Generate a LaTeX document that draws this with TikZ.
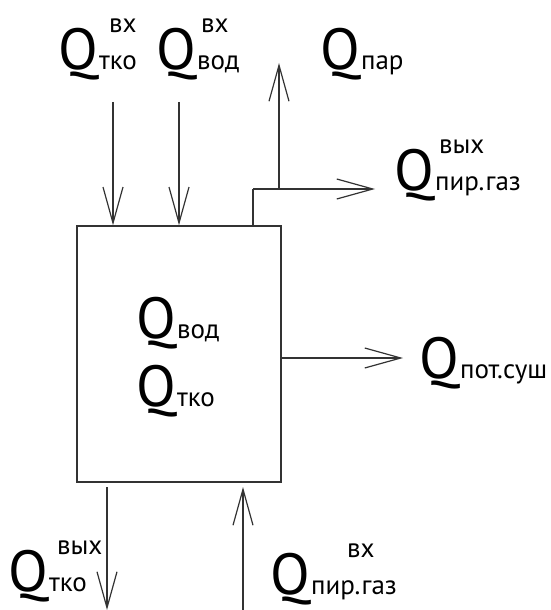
\documentclass[tikz,border=0pt]{standalone}
\usepackage{fontspec}
\setmainfont{PT Sans}
\usepackage{tikz}
\usetikzlibrary{arrows.meta,positioning}
\newcommand\qbig{\fontsize{29}{30}\selectfont}
\newcommand\qsmall{\fontsize{13.5}{16}\selectfont}
% Q with an upper and a lower index
\newcommand\qsym[3][0pt]{\qbig Q\kern.5pt\rlap{\hspace{#1}\raisebox{18.5pt}{\qsmall #2}}{\qsmall #3}}
\tikzset{
  tank/.style={
    draw=black!80,
    line width=.7pt,
    minimum width=102pt,
    minimum height=128pt,
    inner sep=0pt
  },
  arrow/.style={-{Straight Barb[length=18pt,width=10pt]},draw=black!80,line width=.6pt},
  pipe/.style={draw=black!80,line width=.6pt},
  qlabel/.style={anchor=base west,inner sep=0pt,text=black}
}

\begin{document}
\begin{tikzpicture}[x=.5pt,y=-.5pt]
  \useasboundingbox (0,0) rectangle (551,610);

  % Dryer body and what it holds.
  \node[tank] (dryer) at (179,354) {};
  \node[qlabel] (qvod) at (136,338) {\qsym{}{вод}};
  \node[qlabel] (qtko) at (136,406) {\qsym{}{тко}};

  % Inflows from above.
  \node[qlabel] (tkoinlbl) at (58,70)  {\qsym[5pt]{вх}{тко}};
  \node[qlabel] (vodinlbl) at (156,70) {\qsym[2pt]{вх}{вод}};
  \coordinate (tkoin) at (113,102);
  \coordinate (vodin) at (179,102);
  \draw[arrow] (tkoin) -- (tkoin |- dryer.north);
  \draw[arrow] (vodin) -- (vodin |- dryer.north);

  % Outflows at the top right: steam and flue gas.
  \coordinate (gasbend) at (253,189);
  \coordinate (gasout) at (375,189);
  \coordinate (parbase) at (279,189);
  \coordinate (parout) at (279,63);
  \node[qlabel] (parlbl) at (320,70) {\qsym{}{пар}};
  \node[qlabel] (gasoutlbl) at (394,191) {\qsym[2pt]{вых}{пир.газ}};
  \draw[pipe] (gasbend |- dryer.north) -- (gasbend);
  \draw[arrow] (gasbend) -- (gasout);
  \draw[arrow] (parbase) -- (parout);

  % Losses to the right.
  \coordinate (sushout) at (403,358);
  \node[qlabel] (sushlbl) at (419,378) {\qsym{}{пот.суш}};
  \draw[arrow] (dryer.east |- sushout) -- (sushout);

  % Bottom: waste out, flue gas in.
  \coordinate (tkotop) at (107,487);
  \coordinate (tkoout) at (107,610);
  \coordinate (gasin) at (243,610);
  \coordinate (gastop) at (243,487);
  \node[qlabel] (tkooutlbl) at (8,591) {\qsym[4pt]{вых}{тко}};
  \node[qlabel] (gasinlbl) at (270,594) {\qsym[18pt]{вх}{пир.газ}};
  \draw[arrow] (tkotop) -- (tkoout);
  \draw[arrow] (gasin) -- (gastop);
\end{tikzpicture}
\end{document}
